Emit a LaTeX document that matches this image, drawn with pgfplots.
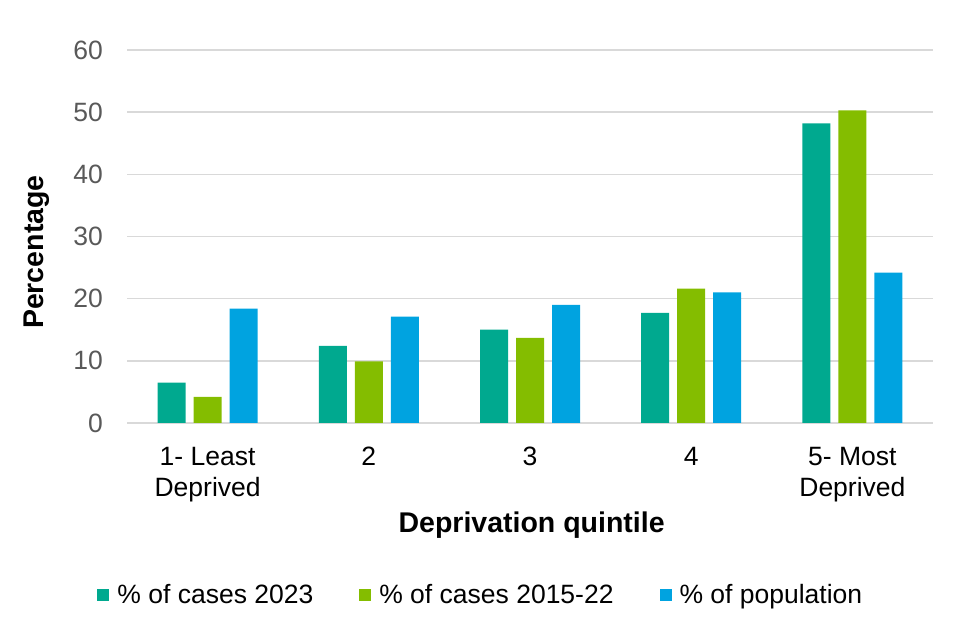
\documentclass[border=0pt]{standalone}
\usepackage{fontspec}
\setmainfont{Liberation Sans}
\usepackage{pgfplots}
\usepackage{pgfplotstable}
\pgfplotsset{compat=1.18}
\definecolor{cteal}{HTML}{00A98F}
\definecolor{cgreen}{HTML}{84BD00}
\definecolor{cblue}{HTML}{00A3E0}
\definecolor{cgrid}{HTML}{D9D9D9}
\definecolor{ctick}{HTML}{595959}

\pgfplotstableread{
x  c2023 c1522 pop
0  6.5   4.2   18.4
1  12.4  9.9   17.1
2  15.0  13.7  19.0
3  17.7  21.6  21.0
4  48.2  50.3  24.2
}\quintiles

\pgfplotsset{sqlegend/.style={legend image code/.code={\fill[##1] (0bp,-6bp) rectangle (12bp,6bp); \path (18bp,0bp);}}}

\begin{document}
\begin{tikzpicture}
\useasboundingbox (0,0) rectangle (960bp,640bp);
\begin{axis}[
  at={(127bp,217bp)}, anchor=south west,
  width=806bp, height=373bp, scale only axis,
  ybar=8bp, bar width=28bp,
  xmin=-0.5, xmax=4.5, ymin=0, ymax=60,
  ytick={0,10,...,60},
  xtick=data,
  xticklabels={{1- Least\\Deprived},2,3,4,{5- Most\\Deprived}},
  axis line style={draw=none},
  major tick length=0pt,
  ymajorgrids, grid style={cgrid, line width=1.5bp},
  /pgf/number format/assume math mode=true,
  ticklabel style={font=\fontsize{26.5bp}{31bp}\selectfont},
  yticklabel style={anchor=east, inner sep=0pt, xshift=-24bp, text=ctick},
  xticklabel style={align=center, anchor=north, inner sep=0pt, yshift=-24bp, text=black},
  ylabel={Percentage},
  xlabel={Deprivation quintile},
  label style={font=\fontsize{28.5bp}{34bp}\selectfont\bfseries, text=black},
  ylabel style={at={(axis description cs:-0.112,0.458)}, anchor=center, rotate=0},
  xlabel style={at={(axis description cs:0.502,-0.273)}, anchor=center},
  every axis plot post/.append style={sqlegend},
  legend style={at={(axis description cs:0.439,-0.461)}, anchor=center, draw=none,
    legend columns=3, font=\fontsize{26.5bp}{31bp}\selectfont,
    /tikz/every even column/.append style={column sep=44bp}},
]
\addplot[fill=cteal, draw=none] table[x=x, y=c2023] {\quintiles};
\addplot[fill=cgreen, draw=none] table[x=x, y=c1522] {\quintiles};
\addplot[fill=cblue, draw=none] table[x=x, y=pop] {\quintiles};
\legend{\% of cases 2023, \% of cases 2015-22, \% of population}
\end{axis}
\end{tikzpicture}
\end{document}
